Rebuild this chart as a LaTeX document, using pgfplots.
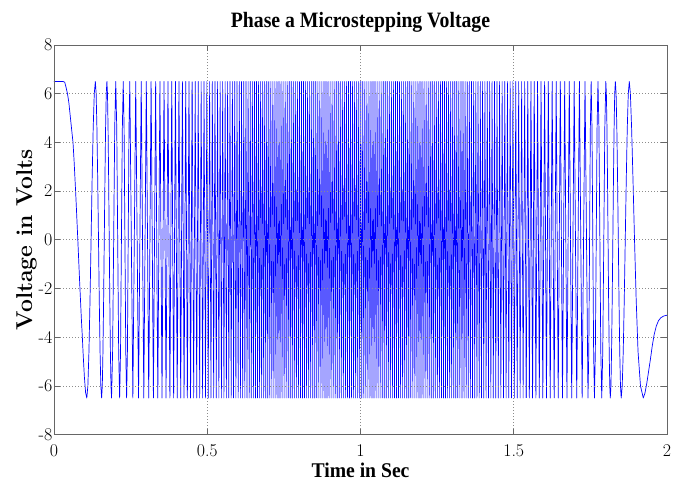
\documentclass[border=0pt]{standalone}
\usepackage{fontspec}
\usepackage{graphicx}
\usepackage{pgfplots}
\pgfplotsset{compat=1.18}
\newfontfamily\headfont{Liberation Serif}
\begin{document}
\begin{tikzpicture}
\begin{axis}[
  name=ax, at={(0,0)}, anchor=south west,
  scale only axis, width=613bp, height=389.5bp,
  xmin=0, xmax=2, ymin=-8, ymax=8,
  xtick={0,0.5,1,1.5,2}, xticklabels={0,0.5,1,1.5,2},
  ytick={-8,-6,-4,-2,0,2,4,6,8}, yticklabels={-8,-6,-4,-2,0,2,4,6,8},
  tick align=inside, major tick length=6bp,
  axis line style={black!60, line width=0.6bp},
  tick style={black!60, line width=0.6bp},
  grid=major,
  major grid style={black!45, line width=0.6bp, dash pattern=on 0.8bp off 2.2bp},
  axis on top,
  tick label style={font=\fontsize{18}{20}\selectfont, text=black},
  yticklabel style={inner xsep=1.5bp},
  xticklabel style={inner ysep=0pt, yshift=-9.5bp},
  title={\scalebox{0.9}[1]{\headfont\bfseries Phase a Microstepping Voltage}},
  title style={at={(0.5,1)}, anchor=base, yshift=12bp, font=\fontsize{22}{26}\selectfont},
  xlabel={\scalebox{0.94}[1]{\headfont\bfseries Time in Sec}},
  xlabel style={at={(0.5,0)}, anchor=base, inner sep=0pt, yshift=-43bp, font=\fontsize{21}{24}\selectfont},
]
% phase a voltage, peaks: speeding up
\addplot[blue, line width=0.7bp, mark=none, line join=round] coordinates {
(0,6.5) (0.030,6.5) (0.035,6.47) (0.039,6.278) (0.044,6.0) (0.0485,5.629) (0.057,4.596) (0.062,4.0) (0.0655,3.25) (0.0717,1.682) (0.0777,0) (0.0835,-1.682) (0.0893,-3.25) (0.0925,-4.0) (0.0947,-4.596) (0.0991,-5.629) (0.1031,-6.278) (0.107,-6.5)
(0.1105,-6.005) (0.1140,-4.596) (0.1175,-2.487) (0.1210,0) (0.1244,2.487) (0.1279,4.596) (0.1314,6.005) (0.1349,6.5)
(0.1375,6.005) (0.1400,4.596) (0.1426,2.487) (0.1452,0) (0.1477,-2.487) (0.1503,-4.596) (0.1528,-6.005) (0.1554,-6.5)
(0.1576,-6.005) (0.1597,-4.596) (0.1619,-2.487) (0.1640,0) (0.1662,2.487) (0.1683,4.596) (0.1705,6.005) (0.1726,6.5)
(0.1745,6.005) (0.1764,4.596) (0.1783,2.487) (0.1802,0) (0.1821,-2.487) (0.1840,-4.596) (0.1859,-6.005) (0.1878,-6.5)
(0.1912,-4.596) (0.1947,0) (0.1981,4.596) (0.2015,6.5)
(0.2047,4.596) (0.2078,0) (0.2110,-4.596) (0.2141,-6.5)
(0.2171,-4.596) (0.2200,0) (0.2230,4.596) (0.2259,6.5)
(0.2287,4.596) (0.2314,0) (0.2342,-4.596) (0.2369,-6.5)
(0.2395,-4.596) (0.2421,0) (0.2447,4.596) (0.2473,6.5)
(0.2573,-6.5) (0.2667,6.5) (0.2758,-6.5) (0.2846,6.5) (0.2930,-6.5) (0.3012,6.5) (0.3091,-6.5) (0.3168,6.5)
(0.3243,-6.5) (0.3316,6.5) (0.3387,-6.5) (0.3456,6.5) (0.3524,-6.5) (0.3590,6.5) (0.3655,-6.5) (0.3719,6.5)
(0.3781,-6.5) (0.3842,6.5) (0.3903,-6.5) (0.3962,6.5) (0.4020,-6.5) (0.4077,6.5) (0.4134,-6.5) (0.4189,6.5)
(0.4244,-6.5) (0.4298,6.5) (0.4351,-6.5) (0.4404,6.5) (0.4456,-6.5) (0.4507,6.5)
};
% full speed region, dense
\addplot[blue, line width=0.6bp, mark=none, line join=round] coordinates {
(0.4507,6.5) (0.4557,-6.5) (0.4607,6.5)
(0.4656,-6.5) (0.4705,6.5) (0.4753,-6.5) (0.4801,6.5) (0.4848,-6.5) (0.4895,6.5) (0.4941,-6.5) (0.4987,6.5)
(0.5032,-6.5) (0.5077,6.5) (0.5121,-6.5) (0.5165,6.5) (0.5209,-6.5) (0.5252,6.5) (0.5295,-6.5) (0.5337,6.5)
(0.5379,-6.5) (0.5421,6.5) (0.5462,-6.5) (0.5503,6.5) (0.5544,-6.5) (0.5584,6.5) (0.5624,-6.5) (0.5664,6.5)
(0.5703,-6.5) (0.5742,6.5) (0.5781,-6.5) (0.5820,6.5) (0.5858,-6.5) (0.5896,6.5) (0.5934,-6.5) (0.5971,6.5)
(0.6009,-6.5) (0.6046,6.5) (0.6082,-6.5) (0.6119,6.5) (0.6155,-6.5) (0.6191,6.5) (0.6227,-6.5) (0.6263,6.5)
(0.6298,-6.5) (0.6333,6.5) (0.6368,-6.5) (0.6403,6.5) (0.6437,-6.5) (0.6472,6.5) (0.6506,-6.5) (0.6540,6.5)
(0.6574,-6.5) (0.6607,6.5) (0.6641,-6.5)
(0.6674,6.5) (0.6708,-6.5) (0.6741,6.5) (0.6774,-6.5) (0.6808,6.5)
(0.6841,-6.5) (0.6874,6.5) (0.6908,-6.5) (0.6941,6.5) (0.6974,-6.5) (0.7008,6.5)
(0.7041,-6.5) (0.7074,6.5) (0.7108,-6.5) (0.7141,6.5) (0.7174,-6.5) (0.7208,6.5)
(0.7241,-6.5) (0.7274,6.5) (0.7308,-6.5) (0.7341,6.5) (0.7374,-6.5) (0.7408,6.5)
(0.7441,-6.5) (0.7474,6.5) (0.7508,-6.5) (0.7541,6.5) (0.7574,-6.5) (0.7608,6.5)
(0.7641,-6.5) (0.7674,6.5) (0.7708,-6.5) (0.7741,6.5) (0.7774,-6.5) (0.7808,6.5)
(0.7841,-6.5) (0.7874,6.5) (0.7908,-6.5) (0.7941,6.5) (0.7974,-6.5) (0.8008,6.5)
(0.8041,-6.5) (0.8074,6.5) (0.8108,-6.5) (0.8141,6.5) (0.8174,-6.5) (0.8208,6.5)
(0.8241,-6.5) (0.8274,6.5) (0.8308,-6.5) (0.8341,6.5) (0.8374,-6.5) (0.8408,6.5)
(0.8441,-6.5) (0.8474,6.5) (0.8508,-6.5) (0.8541,6.5) (0.8574,-6.5) (0.8608,6.5)
(0.8641,-6.5) (0.8674,6.5) (0.8708,-6.5) (0.8741,6.5) (0.8774,-6.5) (0.8808,6.5)
(0.8841,-6.5) (0.8874,6.5) (0.8908,-6.5) (0.8941,6.5) (0.8974,-6.5) (0.9008,6.5)
(0.9041,-6.5) (0.9074,6.5) (0.9108,-6.5) (0.9141,6.5) (0.9174,-6.5) (0.9208,6.5)
(0.9241,-6.5) (0.9274,6.5) (0.9308,-6.5) (0.9341,6.5) (0.9374,-6.5) (0.9408,6.5)
(0.9441,-6.5) (0.9474,6.5) (0.9508,-6.5) (0.9541,6.5) (0.9574,-6.5) (0.9608,6.5)
(0.9641,-6.5) (0.9674,6.5) (0.9708,-6.5) (0.9741,6.5) (0.9774,-6.5) (0.9808,6.5)
(0.9841,-6.5) (0.9874,6.5) (0.9908,-6.5) (0.9941,6.5) (0.9974,-6.5) (1.0008,6.5)
(1.0041,-6.5) (1.0074,6.5) (1.0108,-6.5) (1.0141,6.5) (1.0174,-6.5) (1.0208,6.5)
(1.0241,-6.5) (1.0274,6.5) (1.0308,-6.5) (1.0341,6.5) (1.0374,-6.5) (1.0408,6.5)
(1.0441,-6.5) (1.0474,6.5) (1.0508,-6.5) (1.0541,6.5) (1.0574,-6.5) (1.0608,6.5)
(1.0641,-6.5) (1.0674,6.5) (1.0708,-6.5) (1.0741,6.5) (1.0774,-6.5) (1.0808,6.5)
(1.0841,-6.5) (1.0874,6.5) (1.0908,-6.5) (1.0941,6.5) (1.0974,-6.5) (1.1008,6.5)
(1.1041,-6.5) (1.1074,6.5) (1.1108,-6.5) (1.1141,6.5) (1.1174,-6.5) (1.1208,6.5)
(1.1241,-6.5) (1.1274,6.5) (1.1308,-6.5) (1.1341,6.5) (1.1374,-6.5) (1.1408,6.5)
(1.1441,-6.5) (1.1474,6.5) (1.1508,-6.5) (1.1541,6.5) (1.1574,-6.5) (1.1608,6.5)
(1.1641,-6.5) (1.1674,6.5) (1.1708,-6.5) (1.1741,6.5) (1.1774,-6.5) (1.1808,6.5)
(1.1841,-6.5) (1.1874,6.5) (1.1908,-6.5) (1.1941,6.5) (1.1974,-6.5) (1.2008,6.5)
(1.2041,-6.5) (1.2074,6.5) (1.2108,-6.5) (1.2141,6.5) (1.2174,-6.5) (1.2208,6.5)
(1.2241,-6.5) (1.2274,6.5) (1.2308,-6.5) (1.2341,6.5) (1.2374,-6.5) (1.2408,6.5)
(1.2441,-6.5) (1.2474,6.5) (1.2508,-6.5) (1.2541,6.5) (1.2574,-6.5) (1.2608,6.5)
(1.2641,-6.5) (1.2674,6.5) (1.2708,-6.5) (1.2741,6.5) (1.2774,-6.5) (1.2808,6.5)
(1.2841,-6.5) (1.2874,6.5) (1.2908,-6.5) (1.2941,6.5) (1.2974,-6.5) (1.3008,6.5)
(1.3041,-6.5) (1.3074,6.5) (1.3108,-6.5) (1.3141,6.5) (1.3174,-6.5) (1.3208,6.5)
(1.3241,-6.5)
(1.3278,6.5) (1.3311,-6.5) (1.3345,6.5) (1.3379,-6.5) (1.3412,6.5) (1.3447,-6.5) (1.3481,6.5) (1.3515,-6.5)
(1.3550,6.5) (1.3585,-6.5) (1.3620,6.5) (1.3655,-6.5) (1.3691,6.5) (1.3727,-6.5) (1.3763,6.5) (1.3799,-6.5)
(1.3835,6.5) (1.3872,-6.5) (1.3909,6.5) (1.3946,-6.5) (1.3983,6.5) (1.4021,-6.5) (1.4059,6.5) (1.4097,-6.5)
(1.4136,6.5) (1.4175,-6.5) (1.4214,6.5) (1.4253,-6.5) (1.4292,6.5) (1.4332,-6.5) (1.4373,6.5) (1.4413,-6.5)
(1.4454,6.5) (1.4495,-6.5) (1.4537,6.5) (1.4579,-6.5) (1.4621,6.5) (1.4664,-6.5) (1.4707,6.5) (1.4750,-6.5)
(1.4794,6.5) (1.4838,-6.5) (1.4883,6.5) (1.4928,-6.5) (1.4973,6.5) (1.5019,-6.5) (1.5066,6.5) (1.5113,-6.5)
(1.5160,6.5) (1.5208,-6.5) (1.5257,6.5) (1.5306,-6.5) (1.5356,6.5) (1.5406,-6.5)
};
% slowing down to the stop
\addplot[blue, line width=0.7bp, mark=none, line join=round] coordinates {
(1.5406,-6.5) (1.5457,6.5) (1.5509,-6.5)
(1.5561,6.5) (1.5614,-6.5) (1.5668,6.5) (1.5722,-6.5) (1.5777,6.5) (1.5833,-6.5) (1.5890,6.5) (1.5948,-6.5)
(1.6007,6.5) (1.6067,-6.5) (1.6128,6.5) (1.6190,-6.5) (1.6253,6.5) (1.6318,-6.5) (1.6384,6.5) (1.6451,-6.5)
(1.6520,6.5) (1.6590,-6.5) (1.6662,6.5) (1.6736,-6.5) (1.6812,6.5) (1.6891,-6.5) (1.6972,6.5) (1.7055,-6.5)
(1.7142,6.5) (1.7231,-6.5) (1.7325,6.5) (1.7422,-6.5)
(1.7448,-4.596) (1.7474,0) (1.7499,4.596) (1.7525,6.5)
(1.7552,4.596) (1.7579,0) (1.7606,-4.596) (1.7633,-6.5)
(1.7662,-4.596) (1.7691,0) (1.7719,4.596) (1.7748,6.5)
(1.7779,4.596) (1.7810,0) (1.7840,-4.596) (1.7871,-6.5)
(1.7904,-4.596) (1.7938,0) (1.7971,4.596) (1.8004,6.5)
(1.8022,6.005) (1.8041,4.596) (1.8059,2.487) (1.8077,0) (1.8095,-2.487) (1.8114,-4.596) (1.8132,-6.005) (1.8150,-6.5)
(1.8171,-6.005) (1.8191,-4.596) (1.8212,-2.487) (1.8233,0) (1.8253,2.487) (1.8274,4.596) (1.8294,6.005) (1.8315,6.5)
(1.8339,6.005) (1.8363,4.596) (1.8387,2.487) (1.8411,0) (1.8434,-2.487) (1.8458,-4.596) (1.8482,-6.005) (1.8506,-6.5)
(1.8539,-6.005) (1.8572,-4.596) (1.8605,-2.487) (1.8638,0) (1.8671,2.487) (1.8704,4.596) (1.8737,6.005) (1.8770,6.5)
(1.8805,6.005) (1.8845,4.596) (1.8890,2.487) (1.8940,0) (1.8995,-2.487) (1.9055,-4.596) (1.9135,-6.005) (1.9226,-6.5)
(1.928,-6.3) (1.934,-5.9) (1.940,-5.4) (1.946,-4.9) (1.952,-4.35) (1.958,-3.9) (1.965,-3.55) (1.972,-3.33) (1.980,-3.2) (1.990,-3.13) (2.0,-3.1)
};
\end{axis}
\node[rotate=90, anchor=base, font=\fontsize{23}{27}\selectfont\bfseries] at ([xshift=-22bp]ax.west) {Voltage in Volts};
\pgfresetboundingbox
\path[use as bounding box] (-54bp,-46.5bp) rectangle (627bp,434.5bp);
\end{tikzpicture}
\end{document}
